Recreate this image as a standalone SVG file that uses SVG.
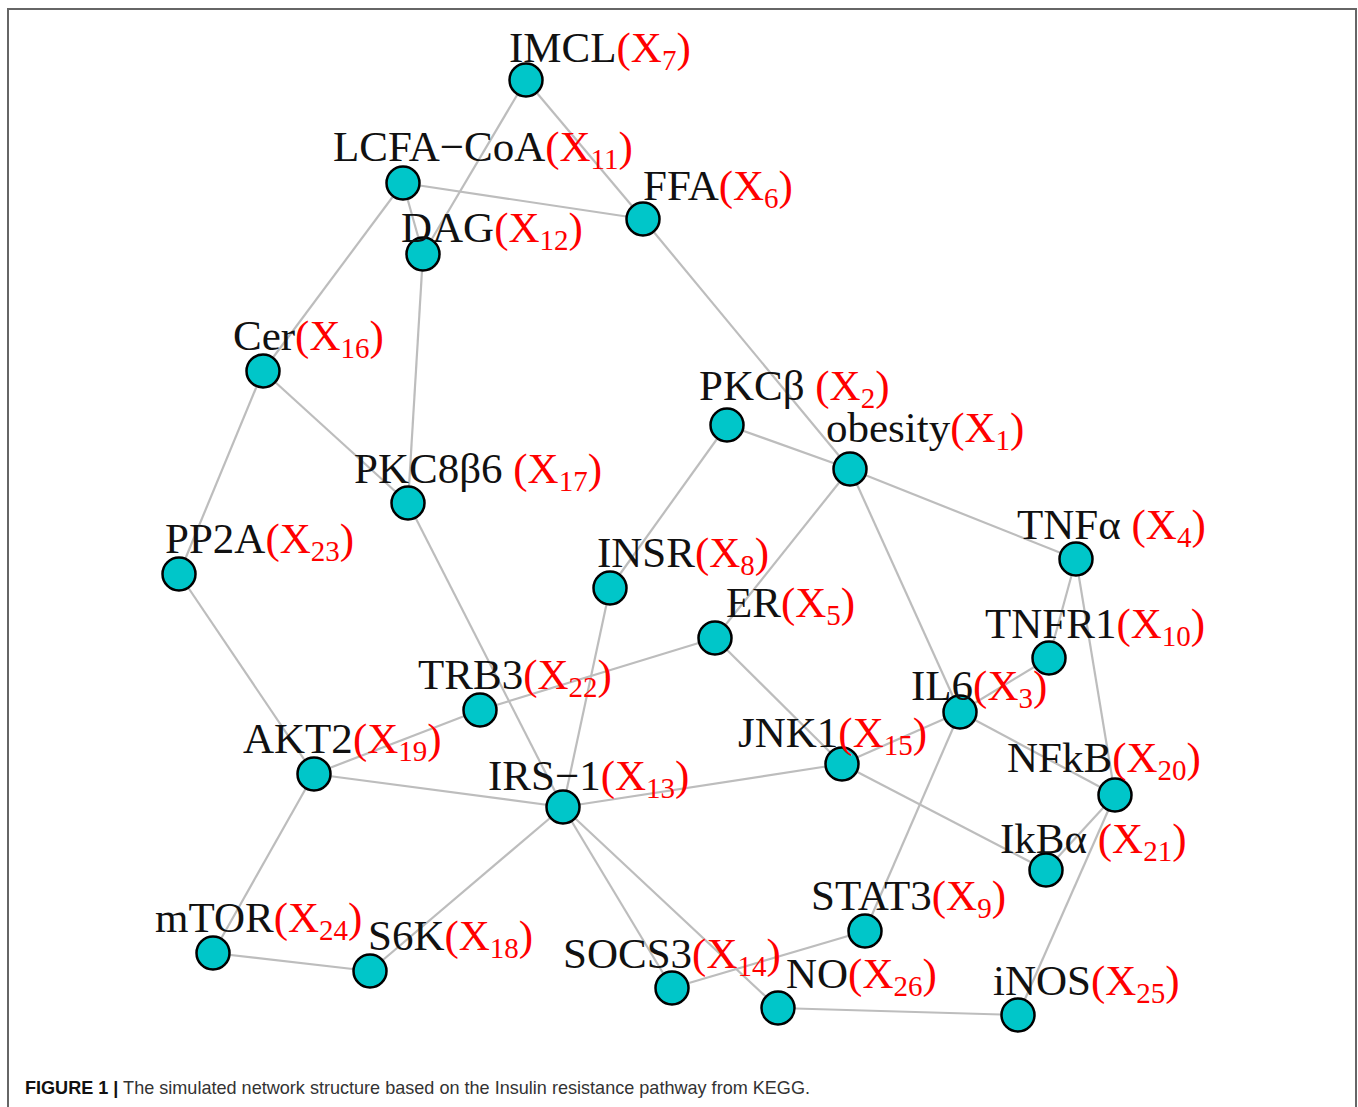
<svg xmlns="http://www.w3.org/2000/svg" width="1358" height="1107" viewBox="0 0 1358 1107">
<style>
.e{stroke:#bdbdbd;stroke-width:2.2;fill:none}
.n{fill:#00C6C9;stroke:#000;stroke-width:2.5}
.l{font-family:"Liberation Serif","Times New Roman",serif;font-size:43px;fill:#111}
.r{fill:#ff0000}
.s{font-size:29px}
.cap{font-family:"Liberation Sans",Arial,sans-serif;font-size:19px;fill:#333}
</style>
<rect width="1358" height="1107" fill="#fff"/>
<path d="M8,1107 V9 H1356 V1107" fill="none" stroke="#666" stroke-width="2"/>
<g id="edges">
<line class="e" x1="526" y1="80" x2="643" y2="219"/>
<line class="e" x1="526" y1="80" x2="423" y2="254"/>
<line class="e" x1="403" y1="183" x2="643" y2="219"/>
<line class="e" x1="403" y1="183" x2="263" y2="371"/>
<line class="e" x1="403" y1="183" x2="423" y2="254"/>
<line class="e" x1="643" y1="219" x2="850" y2="469"/>
<line class="e" x1="423" y1="254" x2="408" y2="503"/>
<line class="e" x1="263" y1="371" x2="408" y2="503"/>
<line class="e" x1="263" y1="371" x2="179" y2="574"/>
<line class="e" x1="727" y1="425" x2="850" y2="469"/>
<line class="e" x1="727" y1="425" x2="610" y2="588"/>
<line class="e" x1="850" y1="469" x2="1076" y2="559"/>
<line class="e" x1="850" y1="469" x2="715" y2="638"/>
<line class="e" x1="850" y1="469" x2="960" y2="712"/>
<line class="e" x1="1076" y1="559" x2="1049" y2="658"/>
<line class="e" x1="1076" y1="559" x2="1115" y2="795"/>
<line class="e" x1="1049" y1="658" x2="960" y2="712"/>
<line class="e" x1="960" y1="712" x2="842" y2="764"/>
<line class="e" x1="960" y1="712" x2="1115" y2="795"/>
<line class="e" x1="960" y1="712" x2="865" y2="931"/>
<line class="e" x1="715" y1="638" x2="480" y2="710"/>
<line class="e" x1="715" y1="638" x2="842" y2="764"/>
<line class="e" x1="480" y1="710" x2="314" y2="774"/>
<line class="e" x1="408" y1="503" x2="563" y2="807"/>
<line class="e" x1="610" y1="588" x2="563" y2="807"/>
<line class="e" x1="179" y1="574" x2="314" y2="774"/>
<line class="e" x1="314" y1="774" x2="563" y2="807"/>
<line class="e" x1="314" y1="774" x2="213" y2="953"/>
<line class="e" x1="563" y1="807" x2="842" y2="764"/>
<line class="e" x1="563" y1="807" x2="370" y2="971"/>
<line class="e" x1="563" y1="807" x2="672" y2="988"/>
<line class="e" x1="563" y1="807" x2="778" y2="1008"/>
<line class="e" x1="842" y1="764" x2="1046" y2="870"/>
<line class="e" x1="1115" y1="795" x2="1046" y2="870"/>
<line class="e" x1="1115" y1="795" x2="1018" y2="1015"/>
<line class="e" x1="213" y1="953" x2="370" y2="971"/>
<line class="e" x1="672" y1="988" x2="865" y2="931"/>
<line class="e" x1="778" y1="1008" x2="1018" y2="1015"/>
</g>
<g id="X7"><circle class="n" cx="526" cy="80" r="16.5"/><text class="l" x="509" y="62">IMCL<tspan class="r">(X<tspan class="s" dy="8">7</tspan><tspan dy="-8">)</tspan></tspan></text></g>
<g id="X11"><circle class="n" cx="403" cy="183" r="16.5"/><text class="l" x="333" y="161">LCFA−CoA<tspan class="r">(X<tspan class="s" dy="8">11</tspan><tspan dy="-8">)</tspan></tspan></text></g>
<g id="X6"><circle class="n" cx="643" cy="219" r="16.5"/><text class="l" x="643" y="200">FFA<tspan class="r">(X<tspan class="s" dy="8">6</tspan><tspan dy="-8">)</tspan></tspan></text></g>
<g id="X12"><circle class="n" cx="423" cy="254" r="16.5"/><text class="l" x="401" y="242">DAG<tspan class="r">(X<tspan class="s" dy="8">12</tspan><tspan dy="-8">)</tspan></tspan></text></g>
<g id="X16"><circle class="n" cx="263" cy="371" r="16.5"/><text class="l" x="233" y="350">Cer<tspan class="r">(X<tspan class="s" dy="8">16</tspan><tspan dy="-8">)</tspan></tspan></text></g>
<g id="X2"><circle class="n" cx="727" cy="425" r="16.5"/><text class="l" x="699" y="400">PKCβ <tspan class="r">(X<tspan class="s" dy="8">2</tspan><tspan dy="-8">)</tspan></tspan></text></g>
<g id="X1"><circle class="n" cx="850" cy="469" r="16.5"/><text class="l" x="826" y="442">obesity<tspan class="r">(X<tspan class="s" dy="8">1</tspan><tspan dy="-8">)</tspan></tspan></text></g>
<g id="X17"><circle class="n" cx="408" cy="503" r="16.5"/><text class="l" x="354" y="483">PKC8β6 <tspan class="r">(X<tspan class="s" dy="8">17</tspan><tspan dy="-8">)</tspan></tspan></text></g>
<g id="X23"><circle class="n" cx="179" cy="574" r="16.5"/><text class="l" x="165" y="553">PP2A<tspan class="r">(X<tspan class="s" dy="8">23</tspan><tspan dy="-8">)</tspan></tspan></text></g>
<g id="X8"><circle class="n" cx="610" cy="588" r="16.5"/><text class="l" x="597" y="567">INSR<tspan class="r">(X<tspan class="s" dy="8">8</tspan><tspan dy="-8">)</tspan></tspan></text></g>
<g id="X4"><circle class="n" cx="1076" cy="559" r="16.5"/><text class="l" x="1017" y="539">TNFα <tspan class="r">(X<tspan class="s" dy="8">4</tspan><tspan dy="-8">)</tspan></tspan></text></g>
<g id="X5"><circle class="n" cx="715" cy="638" r="16.5"/><text class="l" x="726" y="617">ER<tspan class="r">(X<tspan class="s" dy="8">5</tspan><tspan dy="-8">)</tspan></tspan></text></g>
<g id="X10"><circle class="n" cx="1049" cy="658" r="16.5"/><text class="l" x="985" y="638">TNFR1<tspan class="r">(X<tspan class="s" dy="8">10</tspan><tspan dy="-8">)</tspan></tspan></text></g>
<g id="X3"><circle class="n" cx="960" cy="712" r="16.5"/><text class="l" x="911" y="700">IL6<tspan class="r">(X<tspan class="s" dy="8">3</tspan><tspan dy="-8">)</tspan></tspan></text></g>
<g id="X22"><circle class="n" cx="480" cy="710" r="16.5"/><text class="l" x="418" y="689">TRB3<tspan class="r">(X<tspan class="s" dy="8">22</tspan><tspan dy="-8">)</tspan></tspan></text></g>
<g id="X19"><circle class="n" cx="314" cy="774" r="16.5"/><text class="l" x="243" y="753">AKT2<tspan class="r">(X<tspan class="s" dy="8">19</tspan><tspan dy="-8">)</tspan></tspan></text></g>
<g id="X15"><circle class="n" cx="842" cy="764" r="16.5"/><text class="l" x="738" y="747">JNK1<tspan class="r">(X<tspan class="s" dy="8">15</tspan><tspan dy="-8">)</tspan></tspan></text></g>
<g id="X13"><circle class="n" cx="563" cy="807" r="16.5"/><text class="l" x="488" y="790">IRS−1<tspan class="r">(X<tspan class="s" dy="8">13</tspan><tspan dy="-8">)</tspan></tspan></text></g>
<g id="X20"><circle class="n" cx="1115" cy="795" r="16.5"/><text class="l" x="1007" y="772">NFkB<tspan class="r">(X<tspan class="s" dy="8">20</tspan><tspan dy="-8">)</tspan></tspan></text></g>
<g id="X21"><circle class="n" cx="1046" cy="870" r="16.5"/><text class="l" x="1000" y="853">IkBα <tspan class="r">(X<tspan class="s" dy="8">21</tspan><tspan dy="-8">)</tspan></tspan></text></g>
<g id="X9"><circle class="n" cx="865" cy="931" r="16.5"/><text class="l" x="811" y="910">STAT3<tspan class="r">(X<tspan class="s" dy="8">9</tspan><tspan dy="-8">)</tspan></tspan></text></g>
<g id="X24"><circle class="n" cx="213" cy="953" r="16.5"/><text class="l" x="155" y="932">mTOR<tspan class="r">(X<tspan class="s" dy="8">24</tspan><tspan dy="-8">)</tspan></tspan></text></g>
<g id="X18"><circle class="n" cx="370" cy="971" r="16.5"/><text class="l" x="368" y="950">S6K<tspan class="r">(X<tspan class="s" dy="8">18</tspan><tspan dy="-8">)</tspan></tspan></text></g>
<g id="X14"><circle class="n" cx="672" cy="988" r="16.5"/><text class="l" x="563" y="968">SOCS3<tspan class="r">(X<tspan class="s" dy="8">14</tspan><tspan dy="-8">)</tspan></tspan></text></g>
<g id="X26"><circle class="n" cx="778" cy="1008" r="16.5"/><text class="l" x="786" y="988">NO<tspan class="r">(X<tspan class="s" dy="8">26</tspan><tspan dy="-8">)</tspan></tspan></text></g>
<g id="X25"><circle class="n" cx="1018" cy="1015" r="16.5"/><text class="l" x="993" y="995">iNOS<tspan class="r">(X<tspan class="s" dy="8">25</tspan><tspan dy="-8">)</tspan></tspan></text></g>
<text class="cap" x="25" y="1094" textLength="785" lengthAdjust="spacingAndGlyphs"><tspan font-weight="bold" fill="#111">FIGURE 1 |</tspan> The simulated network structure based on the Insulin resistance pathway from KEGG.</text>
</svg>
